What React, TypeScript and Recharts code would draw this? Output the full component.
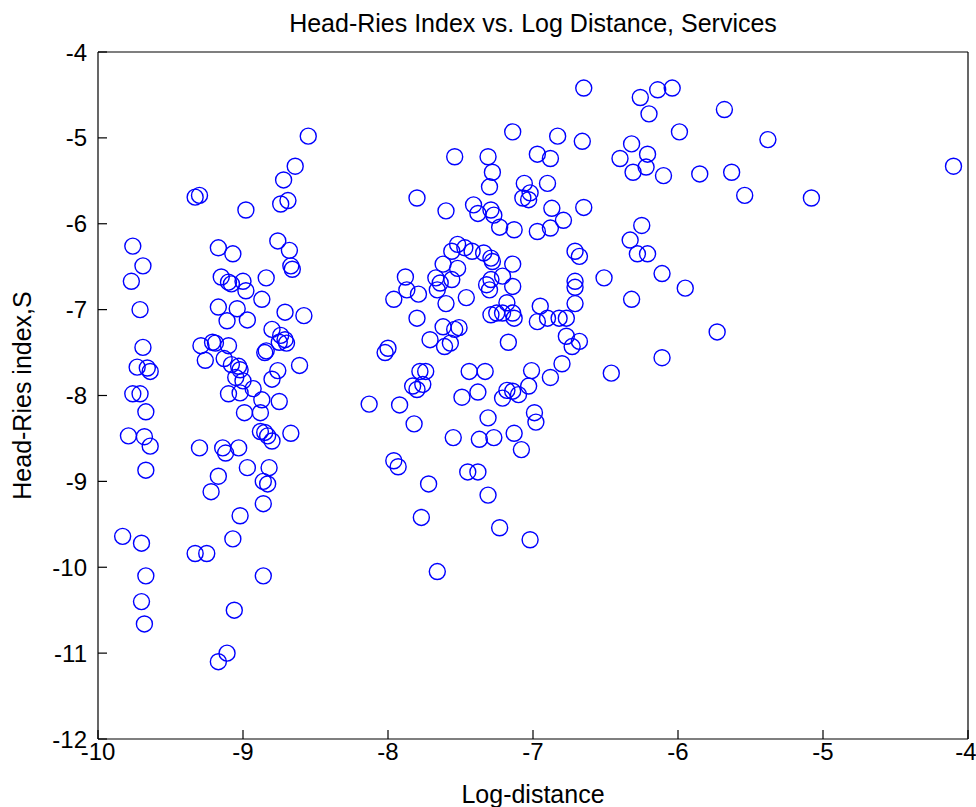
import React from 'react';
import { ScatterChart, Scatter, XAxis, YAxis } from 'recharts';

const TITLE = 'Head-Ries Index vs. Log Distance, Services';
const X_LABEL = 'Log-distance';
const Y_LABEL = 'Head-Ries index,S';

const xTicks = [-10, -9, -8, -7, -6, -5, -4];
const yTicks = [-12, -11, -10, -9, -8, -7, -6, -5, -4];
const xDomain: [number, number] = [-10, -4];
const yDomain: [number, number] = [-12, -4];

// [log-distance, head-ries index]
const groupFar: [number, number][] = [
  [-9.76, -6.26], [-9.69, -6.49], [-9.77, -6.67], [-9.71, -7.0], [-9.69, -7.44],
  [-9.73, -7.67], [-9.66, -7.68], [-9.64, -7.72], [-9.76, -7.98], [-9.71, -7.98],
  [-9.67, -8.19], [-9.79, -8.47], [-9.68, -8.48], [-9.64, -8.59], [-9.67, -8.87],
  [-9.83, -9.64], [-9.7, -9.72], [-9.67, -10.1], [-9.7, -10.4], [-9.68, -10.66],
];

const groupNine: [number, number][] = [
  [-9.33, -5.69], [-9.3, -5.67], [-8.98, -5.84], [-9.17, -6.28], [-9.07, -6.35],
  [-9.15, -6.62], [-9.1, -6.68], [-9.08, -6.7], [-9.0, -6.67], [-8.98, -6.78],
  [-8.84, -6.63], [-8.87, -6.88], [-9.17, -6.97], [-9.04, -6.99], [-9.11, -7.13],
  [-8.97, -7.12], [-9.29, -7.42], [-9.21, -7.38], [-9.19, -7.39], [-9.1, -7.42],
  [-9.26, -7.59], [-9.13, -7.57], [-9.08, -7.64], [-9.03, -7.66], [-9.02, -7.7],
  [-9.05, -7.79], [-9.0, -7.83], [-9.1, -7.98], [-9.02, -7.97], [-8.93, -7.92],
  [-8.87, -8.05], [-8.75, -8.07], [-8.99, -8.2], [-8.88, -8.2], [-8.88, -8.42],
  [-8.85, -8.43], [-8.83, -8.47], [-8.8, -8.53], [-8.67, -8.44], [-9.3, -8.61],
  [-9.14, -8.61], [-9.12, -8.67], [-9.03, -8.61], [-8.97, -8.84], [-8.82, -8.84],
  [-9.17, -8.94], [-9.22, -9.12], [-8.86, -9.0], [-8.83, -9.03], [-8.86, -9.26],
  [-9.02, -9.4], [-9.07, -9.67], [-9.33, -9.84], [-9.25, -9.84], [-8.86, -10.1],
  [-9.06, -10.5], [-9.11, -11.0], [-9.17, -11.1],
];

const groupEightHalf: [number, number][] = [
  [-8.55, -4.98], [-8.64, -5.33], [-8.72, -5.49], [-8.74, -5.77], [-8.69, -5.73],
  [-8.76, -6.2], [-8.68, -6.31], [-8.67, -6.49], [-8.66, -6.53], [-8.71, -7.03],
  [-8.58, -7.07], [-8.8, -7.23], [-8.74, -7.3], [-8.71, -7.35], [-8.7, -7.39],
  [-8.75, -7.38], [-8.84, -7.48], [-8.85, -7.5], [-8.76, -7.71], [-8.8, -7.81],
  [-8.61, -7.65],
];

const groupMiddle: [number, number][] = [
  [-7.54, -5.22], [-7.31, -5.22], [-6.97, -5.19], [-6.88, -5.24], [-7.14, -4.93],
  [-6.83, -4.98], [-7.28, -5.4], [-7.3, -5.57], [-7.06, -5.53], [-7.07, -5.7],
  [-7.03, -5.72], [-7.02, -5.64], [-6.9, -5.53], [-7.8, -5.7], [-7.6, -5.85],
  [-7.41, -5.78], [-7.38, -5.88], [-7.29, -5.84], [-7.27, -5.9], [-7.23, -6.04],
  [-7.13, -6.07], [-6.97, -6.09], [-6.88, -6.05], [-6.87, -5.82], [-6.79, -5.96],
  [-6.65, -5.81], [-7.52, -6.24], [-7.56, -6.32], [-7.47, -6.28], [-7.42, -6.32],
  [-7.34, -6.34], [-7.29, -6.4], [-7.28, -6.44], [-7.14, -6.47], [-6.71, -6.32],
  [-6.68, -6.38], [-7.62, -6.47], [-7.52, -6.52], [-7.67, -6.63], [-7.64, -6.69],
  [-7.66, -6.77], [-7.56, -6.65], [-7.88, -6.62], [-7.87, -6.77], [-7.96, -6.88],
  [-7.79, -6.82], [-7.6, -6.93], [-7.46, -6.86], [-7.32, -6.71], [-7.29, -6.65],
  [-7.3, -6.77], [-7.21, -6.61], [-7.14, -6.73], [-6.71, -6.67], [-6.71, -6.74],
  [-6.51, -6.63], [-7.8, -7.1], [-7.18, -6.92], [-7.25, -7.04], [-7.21, -7.04],
  [-7.14, -7.04], [-7.13, -7.1], [-7.29, -7.06], [-6.71, -6.93], [-6.95, -6.96],
  [-6.97, -7.14], [-6.9, -7.1], [-6.82, -7.1], [-6.77, -7.1], [-7.62, -7.2],
  [-7.71, -7.35], [-7.54, -7.23], [-7.51, -7.21], [-7.57, -7.39], [-7.61, -7.43],
  [-7.17, -7.38], [-6.77, -7.31], [-6.68, -7.37], [-6.73, -7.43], [-6.8, -7.63],
  [-6.46, -7.74], [-8.0, -7.45], [-8.02, -7.5], [-7.78, -7.72], [-7.74, -7.72],
  [-7.83, -7.89], [-7.76, -7.87], [-7.8, -7.93], [-7.44, -7.72], [-7.33, -7.72],
  [-7.01, -7.71], [-6.88, -7.79], [-7.03, -7.89], [-7.18, -7.94], [-7.14, -7.95],
  [-7.1, -7.99], [-7.21, -8.03], [-7.49, -8.02], [-7.38, -7.96], [-8.13, -8.1],
  [-7.92, -8.11], [-6.99, -8.2], [-6.98, -8.31], [-7.82, -8.33], [-7.31, -8.26],
  [-7.55, -8.49], [-7.37, -8.51], [-7.27, -8.49], [-7.13, -8.44], [-7.08, -8.63],
  [-7.96, -8.76], [-7.93, -8.83], [-7.45, -8.89], [-7.38, -8.89], [-7.72, -9.03],
  [-7.31, -9.16], [-7.77, -9.42], [-7.23, -9.54], [-7.02, -9.68], [-7.66, -10.05],
];

const groupNear: [number, number][] = [
  [-6.65, -4.42], [-6.26, -4.53], [-6.14, -4.44], [-6.04, -4.42], [-6.2, -4.72],
  [-5.68, -4.67], [-5.99, -4.93], [-5.38, -5.02], [-6.66, -5.04], [-6.32, -5.07],
  [-6.4, -5.24], [-6.21, -5.19], [-6.31, -5.4], [-6.22, -5.34], [-6.1, -5.44],
  [-5.85, -5.42], [-5.63, -5.4], [-5.54, -5.67], [-5.08, -5.7], [-4.1, -5.33],
  [-6.25, -6.02], [-6.33, -6.19], [-6.28, -6.35], [-6.21, -6.35], [-6.11, -6.58],
  [-5.95, -6.75], [-6.32, -6.88], [-5.73, -7.26], [-6.11, -7.56],
];

const points = [...groupFar, ...groupNine, ...groupEightHalf, ...groupMiddle, ...groupNear].map(
  ([x, y]) => ({ x, y })
);

const FONT = '"Liberation Sans", Arial, Helvetica, sans-serif';
const INK = '#000000';
const MARKER = '#0000ff';

function Ring(props: any) {
  const { cx, cy } = props;
  if (cx == null || cy == null) return null;
  return <circle cx={cx} cy={cy} r={8} fill="none" stroke={MARKER} strokeWidth={1.4} />;
}

function YTitle(props: any) {
  const vb = props.viewBox || { x: 0, y: 52, width: 98, height: 687 };
  const bx = vb.x + 31;
  const cy = vb.y + vb.height / 2;
  return (
    <text
      transform={`translate(${bx}, ${cy}) rotate(-90)`}
      textAnchor="middle"
      fill={INK}
      fontSize={25}
      fontFamily={FONT}
    >
      {Y_LABEL}
    </text>
  );
}

export default function App() {
  const tickStyle = { fill: INK, fontSize: 24, fontFamily: FONT };
  return (
    <div style={{ position: 'absolute', left: 0, top: 0, width: 976, height: 807, background: '#fff' }}>
      <ScatterChart width={976} height={807} margin={{ top: 50, right: 6, bottom: 0, left: 0 }}>
        <XAxis
          dataKey="x"
          type="number"
          domain={xDomain}
          ticks={xTicks}
          allowDataOverflow
          height={68}
          tickSize={-9}
          tickMargin={13}
          tick={tickStyle}
          axisLine={{ stroke: INK, strokeWidth: 1.2 }}
          tickLine={{ stroke: INK, strokeWidth: 1.2 }}
          label={{ value: X_LABEL, position: 'insideBottom', offset: 4, fill: INK, fontSize: 25, fontFamily: FONT }}
        />
        <XAxis
          xAxisId="top"
          orientation="top"
          type="number"
          domain={xDomain}
          ticks={xTicks}
          allowDataOverflow
          height={2}
          tickSize={-9}
          tick={false}
          axisLine={{ stroke: INK, strokeWidth: 1.2 }}
          tickLine={{ stroke: INK, strokeWidth: 1.2 }}
          label={{ value: TITLE, position: 'top', offset: 18, fill: INK, fontSize: 25, fontFamily: FONT }}
        />
        <YAxis
          dataKey="y"
          type="number"
          domain={yDomain}
          ticks={yTicks}
          allowDataOverflow
          width={98}
          tickSize={-9}
          tickMargin={20}
          tick={tickStyle}
          axisLine={{ stroke: INK, strokeWidth: 1.2 }}
          tickLine={{ stroke: INK, strokeWidth: 1.2 }}
          label={<YTitle />}
        />
        <YAxis
          yAxisId="right"
          orientation="right"
          type="number"
          domain={yDomain}
          ticks={yTicks}
          allowDataOverflow
          width={2}
          tickSize={-9}
          tick={false}
          axisLine={{ stroke: INK, strokeWidth: 1.2 }}
          tickLine={{ stroke: INK, strokeWidth: 1.2 }}
        />
        <Scatter data={points} dataKey="y" shape={<Ring />} isAnimationActive={false} />
      </ScatterChart>
    </div>
  );
}
